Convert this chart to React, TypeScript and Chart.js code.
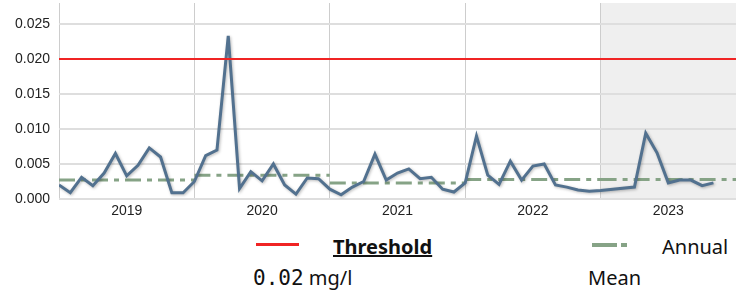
import React, { useEffect, useRef } from 'react';
import { Chart, registerables } from 'chart.js';

Chart.register(...registerables);

const years = ['2019', '2020', '2021', '2022', '2023'];
const values2019 = [0.0020, 0.0009, 0.0031, 0.0019, 0.0037, 0.0065, 0.0033, 0.0048, 0.0073, 0.0060, 0.0009, 0.0009];
const values2020 = [0.0025, 0.0062, 0.0070, 0.0233, 0.0015, 0.0039, 0.0026, 0.0050, 0.0020, 0.0007, 0.0030, 0.0029];
const values2021 = [0.0014, 0.0006, 0.0017, 0.0025, 0.0064, 0.0027, 0.0037, 0.0043, 0.0029, 0.0031, 0.0014, 0.0010];
const values2022 = [0.0023, 0.0090, 0.0034, 0.0021, 0.0054, 0.0027, 0.0047, 0.0050, 0.0020, 0.0017, 0.0013, 0.0011];
const values2023 = [0.0012, null, null, 0.0017, 0.0094, 0.0066, 0.0023, 0.0027, 0.0027, 0.0019, 0.0023, null];
const annualMean = [0.0027, 0.0034, 0.0023, 0.0028, 0.0028];
const thresholdValue = 0.02;
const shadedYearIndex = 4;

const LINE_COLOR = '#52718f';
const THRESH_COLOR = '#f02424';
const MEAN_COLOR = '#86a386';

export default function App() {
  const ref = useRef<HTMLCanvasElement | null>(null);

  useEffect(() => {
    document.body.style.margin = '0';
    document.body.style.overflow = 'hidden';
    const monthly = [...values2019, ...values2020, ...values2021, ...values2022, ...values2023];
    const series = monthly.map((v, i) => ({ x: i, y: v }));
    const meanPts: { x: number; y: number | null }[] = [];
    annualMean.forEach((m, k) => {
      meanPts.push({ x: k * 12, y: m }, { x: k * 12 + 12, y: m });
      if (k < annualMean.length - 1) meanPts.push({ x: k * 12 + 12, y: null });
    });
    const nMonths = years.length * 12;

    const shadePlugin = {
      id: 'shade',
      beforeDraw(chart: any) {
        const { ctx, chartArea, scales } = chart;
        const x0 = scales.x.getPixelForValue(shadedYearIndex * 12);
        ctx.save();
        ctx.fillStyle = '#efefef';
        ctx.fillRect(x0, chartArea.top, chartArea.right - x0, chartArea.bottom - chartArea.top);
        ctx.restore();
      },
      beforeDatasetDraw(chart: any, args: any) {
        if (args.index === 1) {
          const ctx = chart.ctx;
          ctx.save();
          ctx.shadowColor = 'rgba(0,0,0,0.28)';
          ctx.shadowBlur = 3;
          ctx.shadowOffsetX = 1;
          ctx.shadowOffsetY = 1;
        }
      },
      afterDatasetDraw(chart: any, args: any) {
        if (args.index === 1) chart.ctx.restore();
      },
    };

    const chart = new Chart(ref.current as HTMLCanvasElement, {
      type: 'line',
      data: {
        datasets: [
          {
            label: 'Threshold',
            data: [{ x: 0, y: thresholdValue }, { x: nMonths, y: thresholdValue }],
            borderColor: THRESH_COLOR,
            borderWidth: 2,
            pointRadius: 0,
          },
          {
            label: 'Value',
            data: series as any,
            borderColor: LINE_COLOR,
            borderWidth: 3,
            pointRadius: 0,
            spanGaps: true,
            tension: 0,
          },
          {
            label: 'Annual Mean',
            data: meanPts as any,
            borderColor: MEAN_COLOR,
            borderWidth: 3,
            borderDash: [16, 6, 5, 6],
            pointRadius: 0,
            spanGaps: false,
          },
        ],
      },
      options: {
        animation: false,
        responsive: true,
        maintainAspectRatio: false,
        layout: { padding: { top: 3, right: 6, bottom: 3, left: 0 } },
        plugins: { legend: { display: false }, tooltip: { enabled: false } },
        scales: {
          x: {
            type: 'linear',
            min: 0,
            max: nMonths,
            border: { display: false },
            grid: {
              drawTicks: false,
              lineWidth: 1,
              color: (c: any) =>
                c.tick && c.tick.value % 12 === 0 && c.tick.value < nMonths ? '#cdcdcd' : 'rgba(0,0,0,0)',
            },
            afterBuildTicks: (axis: any) => {
              const t = [];
              for (let v = 0; v <= nMonths; v += 6) t.push({ value: v });
              axis.ticks = t;
            },
            afterFit: (axis: any) => {
              axis.paddingLeft = 0;
              axis.paddingRight = 0;
              axis.paddingTop = 0;
              axis.paddingBottom = 0;
              axis.height = 23;
            },
            ticks: {
              autoSkip: false,
              maxRotation: 0,
              padding: 4,
              color: '#222',
              font: { family: "'Liberation Sans', Arial, sans-serif", size: 14 },
              callback: (v: any) => {
                const n = Number(v);
                return n % 12 === 6 ? years[(n - 6) / 12] : '';
              },
            },
          },
          y: {
            min: 0,
            max: 0.028,
            border: { display: false },
            afterFit: (axis: any) => {
              axis.width = 59;
              axis.paddingTop = 0;
              axis.paddingBottom = 0;
            },
            grid: { drawTicks: false, lineWidth: 2, color: '#dedede' },
            ticks: {
              stepSize: 0.005,
              includeBounds: false,
              padding: 9,
              color: '#222',
              font: { family: "'Liberation Sans', Arial, sans-serif", size: 14 },
              callback: (v: any) => Number(v).toFixed(3),
            },
          },
        },
      },
      plugins: [shadePlugin],
    } as any);
    return () => chart.destroy();
  }, []);

  const textFont = "'Noto Sans', 'Open Sans', sans-serif";
  return (
    <div style={{ width: 742, height: 295, position: 'relative', fontFamily: textFont, color: '#111' }}>
      <div style={{ position: 'relative', width: 742, height: 225 }}>
        <canvas ref={ref} />
      </div>
      <div style={{ position: 'relative', height: 70, fontSize: 20, lineHeight: '30px' }}>
        <div style={{ position: 'absolute', left: 256, top: 18, width: 43, height: 3, background: THRESH_COLOR }} />
        <div style={{ position: 'absolute', left: 333, top: 7, fontWeight: 700, textDecoration: 'underline', whiteSpace: 'nowrap' }}>
          Threshold
        </div>
        <div style={{ position: 'absolute', left: 253, top: 38, whiteSpace: 'nowrap' }}>
          <span style={{ fontFamily: "'DejaVu Sans Mono', monospace", fontSize: 21 }}>0.02</span> mg/l
        </div>
        <svg style={{ position: 'absolute', left: 592, top: 16 }} width={42} height={8}>
          <line x1={0} y1={4} x2={42} y2={4} stroke={MEAN_COLOR} strokeWidth={4} strokeDasharray="25 4 6 100" />
        </svg>
        <div style={{ position: 'absolute', left: 662, top: 7, whiteSpace: 'nowrap' }}>Annual</div>
        <div style={{ position: 'absolute', left: 588, top: 38, whiteSpace: 'nowrap' }}>Mean</div>
      </div>
    </div>
  );
}
